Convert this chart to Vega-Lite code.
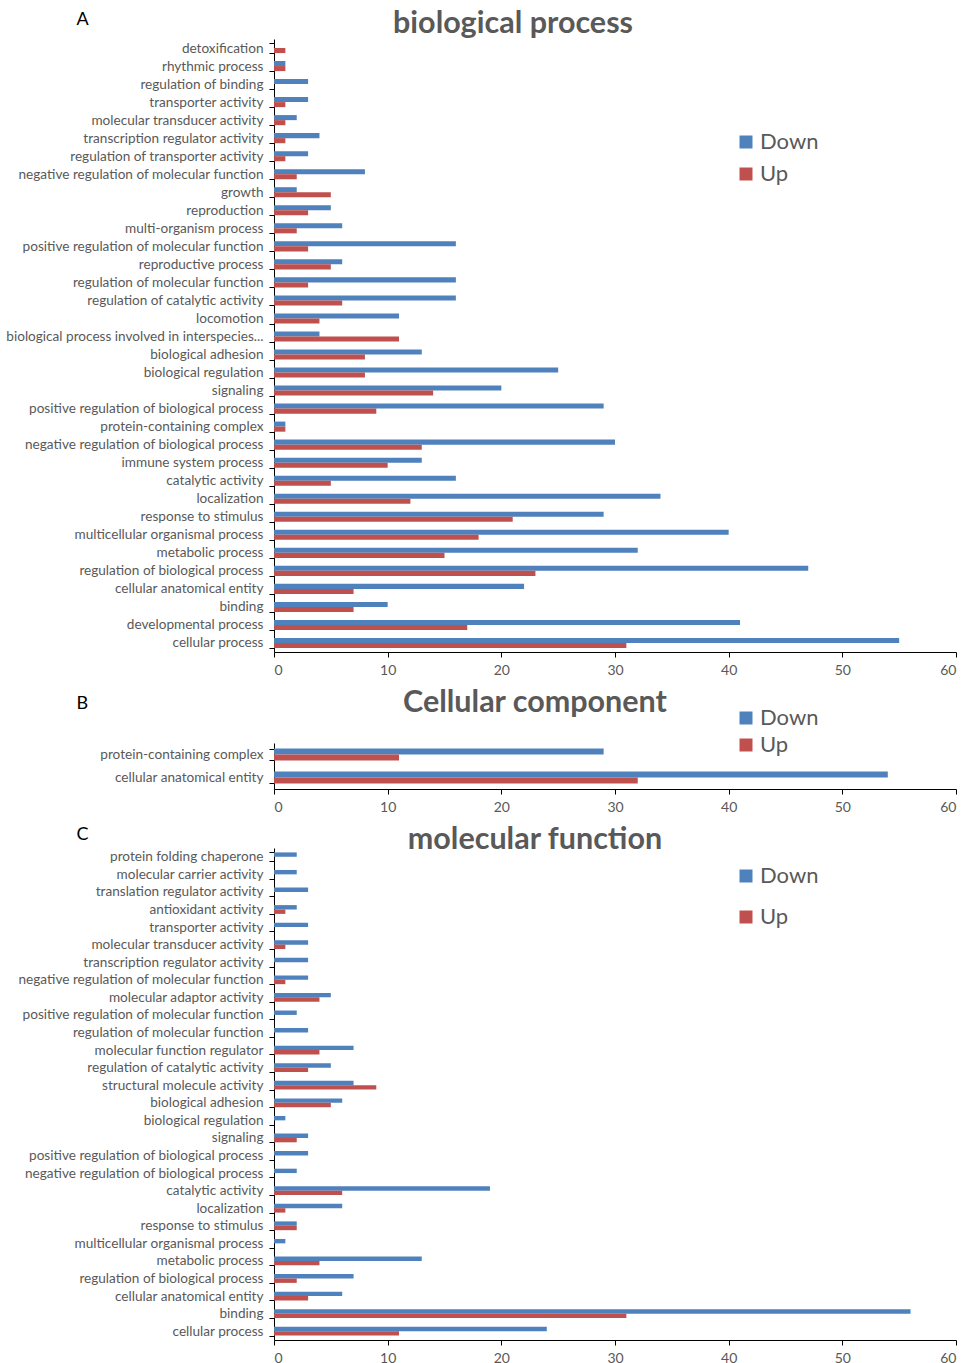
{
  "$schema": "https://vega.github.io/schema/vega-lite/v6.json",
  "background": "white",
  "padding": {"left": 5, "top": 8, "right": 10, "bottom": 0},
  "spacing": 10,
  "config": {
    "font": "Lato",
    "view": {"stroke": null},
    "axis": {"domainColor": "#000000", "tickColor": "#000000", "labelColor": "#595959", "labelFont": "Lato", "grid": false, "tickSize": 5, "labelLimit": 400},
    "axisX": {"labelFontSize": 14, "labelPadding": 6},
    "axisY": {"labelFontSize": 13.6, "labelPadding": 6, "tickBand": "extent", "titleAngle": 0, "titleAlign": "left", "titleBaseline": "middle", "titleFont": "Lato", "titleFontSize": 18, "titleFontWeight": "normal", "titleColor": "#000000"},
    "title": {"font": "Lato", "fontSize": 30.5, "fontWeight": "bold", "color": "#595959", "anchor": "middle", "frame": "group", "baseline": "alphabetic"},
    "legend": {"orient": "none", "title": null, "symbolType": "square", "symbolSize": 169, "symbolStrokeWidth": 0, "labelFont": "Lato", "labelFontSize": 22, "labelColor": "#595959", "labelOffset": 3}
  },
  "datasets": {
    "bp": [
      {"term": "detoxification", "group": "Down", "count": 0}, {"term": "detoxification", "group": "Up", "count": 1},
      {"term": "rhythmic process", "group": "Down", "count": 1}, {"term": "rhythmic process", "group": "Up", "count": 1},
      {"term": "regulation of binding", "group": "Down", "count": 3}, {"term": "regulation of binding", "group": "Up", "count": 0},
      {"term": "transporter activity", "group": "Down", "count": 3}, {"term": "transporter activity", "group": "Up", "count": 1},
      {"term": "molecular transducer activity", "group": "Down", "count": 2}, {"term": "molecular transducer activity", "group": "Up", "count": 1},
      {"term": "transcription regulator activity", "group": "Down", "count": 4}, {"term": "transcription regulator activity", "group": "Up", "count": 1},
      {"term": "regulation of transporter activity", "group": "Down", "count": 3}, {"term": "regulation of transporter activity", "group": "Up", "count": 1},
      {"term": "negative regulation of molecular function", "group": "Down", "count": 8}, {"term": "negative regulation of molecular function", "group": "Up", "count": 2},
      {"term": "growth", "group": "Down", "count": 2}, {"term": "growth", "group": "Up", "count": 5},
      {"term": "reproduction", "group": "Down", "count": 5}, {"term": "reproduction", "group": "Up", "count": 3},
      {"term": "multi-organism process", "group": "Down", "count": 6}, {"term": "multi-organism process", "group": "Up", "count": 2},
      {"term": "positive regulation of molecular function", "group": "Down", "count": 16}, {"term": "positive regulation of molecular function", "group": "Up", "count": 3},
      {"term": "reproductive process", "group": "Down", "count": 6}, {"term": "reproductive process", "group": "Up", "count": 5},
      {"term": "regulation of molecular function", "group": "Down", "count": 16}, {"term": "regulation of molecular function", "group": "Up", "count": 3},
      {"term": "regulation of catalytic activity", "group": "Down", "count": 16}, {"term": "regulation of catalytic activity", "group": "Up", "count": 6},
      {"term": "locomotion", "group": "Down", "count": 11}, {"term": "locomotion", "group": "Up", "count": 4},
      {"term": "biological process involved in interspecies...", "group": "Down", "count": 4}, {"term": "biological process involved in interspecies...", "group": "Up", "count": 11},
      {"term": "biological adhesion", "group": "Down", "count": 13}, {"term": "biological adhesion", "group": "Up", "count": 8},
      {"term": "biological regulation", "group": "Down", "count": 25}, {"term": "biological regulation", "group": "Up", "count": 8},
      {"term": "signaling", "group": "Down", "count": 20}, {"term": "signaling", "group": "Up", "count": 14},
      {"term": "positive regulation of biological process", "group": "Down", "count": 29}, {"term": "positive regulation of biological process", "group": "Up", "count": 9},
      {"term": "protein-containing complex", "group": "Down", "count": 1}, {"term": "protein-containing complex", "group": "Up", "count": 1},
      {"term": "negative regulation of biological process", "group": "Down", "count": 30}, {"term": "negative regulation of biological process", "group": "Up", "count": 13},
      {"term": "immune system process", "group": "Down", "count": 13}, {"term": "immune system process", "group": "Up", "count": 10},
      {"term": "catalytic activity", "group": "Down", "count": 16}, {"term": "catalytic activity", "group": "Up", "count": 5},
      {"term": "localization", "group": "Down", "count": 34}, {"term": "localization", "group": "Up", "count": 12},
      {"term": "response to stimulus", "group": "Down", "count": 29}, {"term": "response to stimulus", "group": "Up", "count": 21},
      {"term": "multicellular organismal process", "group": "Down", "count": 40}, {"term": "multicellular organismal process", "group": "Up", "count": 18},
      {"term": "metabolic process", "group": "Down", "count": 32}, {"term": "metabolic process", "group": "Up", "count": 15},
      {"term": "regulation of biological process", "group": "Down", "count": 47}, {"term": "regulation of biological process", "group": "Up", "count": 23},
      {"term": "cellular anatomical entity", "group": "Down", "count": 22}, {"term": "cellular anatomical entity", "group": "Up", "count": 7},
      {"term": "binding", "group": "Down", "count": 10}, {"term": "binding", "group": "Up", "count": 7},
      {"term": "developmental process", "group": "Down", "count": 41}, {"term": "developmental process", "group": "Up", "count": 17},
      {"term": "cellular process", "group": "Down", "count": 55}, {"term": "cellular process", "group": "Up", "count": 31}
    ],
    "cc": [
      {"term": "protein-containing complex", "group": "Down", "count": 29}, {"term": "protein-containing complex", "group": "Up", "count": 11},
      {"term": "cellular anatomical entity", "group": "Down", "count": 54}, {"term": "cellular anatomical entity", "group": "Up", "count": 32}
    ],
    "mf": [
      {"term": "protein folding chaperone", "group": "Down", "count": 2}, {"term": "protein folding chaperone", "group": "Up", "count": 0},
      {"term": "molecular carrier activity", "group": "Down", "count": 2}, {"term": "molecular carrier activity", "group": "Up", "count": 0},
      {"term": "translation regulator activity", "group": "Down", "count": 3}, {"term": "translation regulator activity", "group": "Up", "count": 0},
      {"term": "antioxidant activity", "group": "Down", "count": 2}, {"term": "antioxidant activity", "group": "Up", "count": 1},
      {"term": "transporter activity", "group": "Down", "count": 3}, {"term": "transporter activity", "group": "Up", "count": 0},
      {"term": "molecular transducer activity", "group": "Down", "count": 3}, {"term": "molecular transducer activity", "group": "Up", "count": 1},
      {"term": "transcription regulator activity", "group": "Down", "count": 3}, {"term": "transcription regulator activity", "group": "Up", "count": 0},
      {"term": "negative regulation of molecular function", "group": "Down", "count": 3}, {"term": "negative regulation of molecular function", "group": "Up", "count": 1},
      {"term": "molecular adaptor activity", "group": "Down", "count": 5}, {"term": "molecular adaptor activity", "group": "Up", "count": 4},
      {"term": "positive regulation of molecular function", "group": "Down", "count": 2}, {"term": "positive regulation of molecular function", "group": "Up", "count": 0},
      {"term": "regulation of molecular function", "group": "Down", "count": 3}, {"term": "regulation of molecular function", "group": "Up", "count": 0},
      {"term": "molecular function regulator", "group": "Down", "count": 7}, {"term": "molecular function regulator", "group": "Up", "count": 4},
      {"term": "regulation of catalytic activity", "group": "Down", "count": 5}, {"term": "regulation of catalytic activity", "group": "Up", "count": 3},
      {"term": "structural molecule activity", "group": "Down", "count": 7}, {"term": "structural molecule activity", "group": "Up", "count": 9},
      {"term": "biological adhesion", "group": "Down", "count": 6}, {"term": "biological adhesion", "group": "Up", "count": 5},
      {"term": "biological regulation", "group": "Down", "count": 1}, {"term": "biological regulation", "group": "Up", "count": 0},
      {"term": "signaling", "group": "Down", "count": 3}, {"term": "signaling", "group": "Up", "count": 2},
      {"term": "positive regulation of biological process", "group": "Down", "count": 3}, {"term": "positive regulation of biological process", "group": "Up", "count": 0},
      {"term": "negative regulation of biological process", "group": "Down", "count": 2}, {"term": "negative regulation of biological process", "group": "Up", "count": 0},
      {"term": "catalytic activity", "group": "Down", "count": 19}, {"term": "catalytic activity", "group": "Up", "count": 6},
      {"term": "localization", "group": "Down", "count": 6}, {"term": "localization", "group": "Up", "count": 1},
      {"term": "response to stimulus", "group": "Down", "count": 2}, {"term": "response to stimulus", "group": "Up", "count": 2},
      {"term": "multicellular organismal process", "group": "Down", "count": 1}, {"term": "multicellular organismal process", "group": "Up", "count": 0},
      {"term": "metabolic process", "group": "Down", "count": 13}, {"term": "metabolic process", "group": "Up", "count": 4},
      {"term": "regulation of biological process", "group": "Down", "count": 7}, {"term": "regulation of biological process", "group": "Up", "count": 2},
      {"term": "cellular anatomical entity", "group": "Down", "count": 6}, {"term": "cellular anatomical entity", "group": "Up", "count": 3},
      {"term": "binding", "group": "Down", "count": 56}, {"term": "binding", "group": "Up", "count": 31},
      {"term": "cellular process", "group": "Down", "count": 24}, {"term": "cellular process", "group": "Up", "count": 11}
    ]
  },
  "resolve": {"scale": {"color": "independent", "x": "independent", "y": "independent", "yOffset": "independent"}, "legend": {"color": "independent"}},
  "vconcat": [
    {
      "width": 682, "height": 613,
      "title": {"text": "biological process", "dx": -102, "offset": -29},
      "data": {"name": "bp"},
      "mark": {"type": "bar"},
      "encoding": {
        "y": {"field": "term", "type": "nominal", "sort": null, "scale": {"paddingInner": 0.44, "paddingOuter": 0.22}, "axis": {"title": "A", "titleX": -198, "titleY": -20}},
        "yOffset": {"field": "group", "type": "nominal", "sort": ["Down", "Up"]},
        "x": {"field": "count", "type": "quantitative", "scale": {"domain": [0, 60], "nice": false}, "axis": {"title": null, "values": [0, 10, 20, 30, 40, 50, 60]}},
        "color": {"field": "group", "type": "nominal", "scale": {"domain": ["Down", "Up"], "range": ["#4F81BD", "#C0504D"]}, "legend": {"legendX": 461, "legendY": 92, "rowPadding": 10}}
      }
    },
    {
      "width": 682, "height": 46,
      "title": {"text": "Cellular component", "dx": -80, "offset": -24},
      "data": {"name": "cc"},
      "mark": {"type": "bar"},
      "encoding": {
        "y": {"field": "term", "type": "nominal", "sort": null, "scale": {"paddingInner": 0.48, "paddingOuter": 0.24}, "axis": {"title": "B", "titleX": -198, "titleY": -40}},
        "yOffset": {"field": "group", "type": "nominal", "sort": ["Down", "Up"]},
        "x": {"field": "count", "type": "quantitative", "scale": {"domain": [0, 60], "nice": false}, "axis": {"title": null, "values": [0, 10, 20, 30, 40, 50, 60]}},
        "color": {"field": "group", "type": "nominal", "scale": {"domain": ["Down", "Up"], "range": ["#4F81BD", "#C0504D"]}, "legend": {"legendX": 461, "legendY": -36, "rowPadding": 5}}
      }
    },
    {
      "width": 682, "height": 492,
      "title": {"text": "molecular function", "dx": -80, "offset": -30},
      "data": {"name": "mf"},
      "mark": {"type": "bar"},
      "encoding": {
        "y": {"field": "term", "type": "nominal", "sort": null, "scale": {"paddingInner": 0.5, "paddingOuter": 0.25}, "axis": {"title": "C", "titleX": -198, "titleY": -14}},
        "yOffset": {"field": "group", "type": "nominal", "sort": ["Down", "Up"]},
        "x": {"field": "count", "type": "quantitative", "scale": {"domain": [0, 60], "nice": false}, "axis": {"title": null, "values": [0, 10, 20, 30, 40, 50, 60]}},
        "color": {"field": "group", "type": "nominal", "scale": {"domain": ["Down", "Up"], "range": ["#4F81BD", "#C0504D"]}, "legend": {"legendX": 461, "legendY": 17, "rowPadding": 19}}
      }
    }
  ]
}
